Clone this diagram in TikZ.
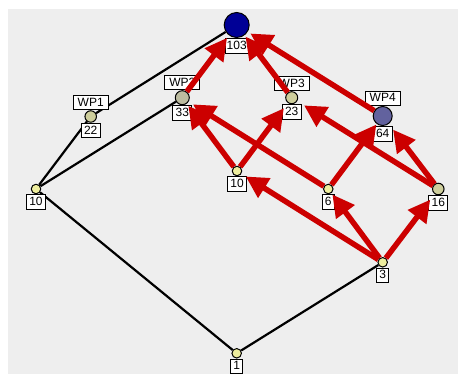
\documentclass[tikz,border=0pt]{standalone}
\usepackage{fontspec}
\setmainfont{Liberation Sans}
\usetikzlibrary{arrows.meta}
\pgfdeclarelayer{back}
\pgfdeclarelayer{lines}
\pgfsetlayers{back,lines,main}
\definecolor{canvas}{RGB}{238,238,238}
\definecolor{pale}{RGB}{238,238,158}
\definecolor{wpolive}{RGB}{206,206,156}
\definecolor{wpgray}{RGB}{188,188,160}
\definecolor{wpblue}{RGB}{98,98,158}
\definecolor{topblue}{RGB}{0,0,150}
\definecolor{flowred}{RGB}{204,0,0}
\begin{document}
\begin{tikzpicture}[x=1pt,y=-1pt,
	vtx/.style={circle, draw=black, line width=1pt, inner sep=0pt, minimum size=#1},
	vtx/.default=9.5pt,
	tag/.style={draw=black, fill=white, line width=0.8pt, inner xsep=2.8pt, inner ysep=2pt,
		text height=9pt, text depth=1.6pt, font=\fontsize{12}{13}\selectfont},
	wptag/.style={tag, inner xsep=4.5pt}]
	\useasboundingbox (0,0) rectangle (458,374);
	\begin{pgfonlayer}{back}
		\fill[canvas] (8,9) rectangle (457.5,373.5);
	\end{pgfonlayer}
	\begin{scope}[every label/.style={tag}]
		\node[vtx=25pt, fill=topblue, label={[tag, inner xsep=1.2pt]below:103}] (top) at (236.7,25) {};
		\node[vtx=11.5pt, fill=wpolive, label={[wptag]above:WP1}, label=below:22] (wp1) at (90.7,116.5) {};
		\node[vtx=14pt, fill=wpgray, label={[wptag]above:WP2}, label=below:33] (wp2) at (182.3,97.7) {};
		\node[vtx=12pt, fill=wpolive, label={[wptag]above:WP3}, label=below:23] (wp3) at (291.7,97.7) {};
		\node[vtx=19pt, fill=wpblue, label={[wptag]above:WP4}, label=below:64] (wp4) at (382.7,116) {};
		\node[vtx, fill=pale, label=below:10] (l10) at (36,189) {};
		\node[vtx, fill=pale, label=below:10] (m10) at (237,171) {};
		\node[vtx, fill=pale, label=below:6] (n6) at (328.3,189) {};
		\node[vtx=11.5pt, fill=wpolive, label=below:16] (n16) at (438.3,189) {};
		\node[vtx, fill=pale, label=below:3] (n3) at (382.7,262.3) {};
		\node[vtx, fill=pale, label=below:1] (n1) at (236.7,353.3) {};
	\end{scope}
	\begin{pgfonlayer}{lines}
		\begin{scope}[every edge/.style={draw=black, line width=2.2pt}]
			\path (top) edge (wp1);
			\path (wp1) edge (l10);
			\path (l10) edge (wp2);
			\path (l10) edge (n1);
			\path (n1) edge (n3);
		\end{scope}
	\end{pgfonlayer}
	\begin{scope}[every edge/.style={draw=flowred, line width=5.5pt,
			-{Triangle[length=22pt,width=22pt]}, shorten >=3pt,
			preaction={draw=black, opacity=0.12, transform canvas={shift={(1.5,1.5)}}}}]
		\path (wp2) edge (top);
		\path (wp3) edge[shorten >=1.5pt] (top);
		\path (wp4) edge (top);
		\path (m10) edge[shorten >=2.5pt] (wp2);
		\path (m10) edge[shorten >=6.5pt] (wp3);
		\path (n6) edge[shorten >=5pt] (wp2);
		\path (n6) edge[shorten >=0.5pt] (wp4);
		\path (n16) edge[shorten >=8pt] (wp3);
		\path (n16) edge[shorten >=7pt] (wp4);
		\path (n3) edge[shorten >=5pt] (m10);
		\path (n3) edge[shorten >=1.5pt] (n6);
		\path (n3) edge[shorten >=7pt] (n16);
	\end{scope}
\end{tikzpicture}
\end{document}
